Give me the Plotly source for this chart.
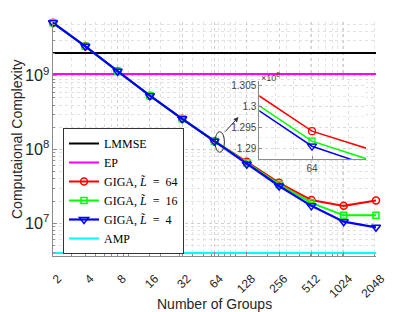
import plotly.graph_objects as go

groups = [2, 4, 8, 16, 32, 64, 128, 256, 512, 1024, 2048]
tick_labels = ["2", "4", "8", "16", "32", "64", "128", "256", "512", "1024", "2048"]

lmmse = [2.03e9] * len(groups)
ep = [1.055e9] * len(groups)
amp = [3.95e6] * len(groups)
giga_64 = [5.2e9, 2.5e9, 1.15e9, 5.35e8, 2.60e8, 1.2941e8, 6.8e7, 3.53e7, 2.06e7, 1.72e7, 2.04e7]
giga_16 = [5.2e9, 2.5e9, 1.15e9, 5.35e8, 2.60e8, 1.2917e8, 6.6e7, 3.36e7, 1.89e7, 1.28e7, 1.28e7]
giga_4 = [5.2e9, 2.5e9, 1.15e9, 5.35e8, 2.60e8, 1.2905e8, 6.3e7, 3.2e7, 1.72e7, 1.05e7, 8.8e6]

inset_tickvals = [1.29e8, 1.295e8, 1.3e8, 1.305e8]
inset_ticktext = ["1.29", "1.295", "1.3", "1.305"]

W, H = 415, 312
L, R, T, B = 53, 39, 22, 56
pw, ph = W - L - R, H - T - B


def px(xp):
    return (xp - L) / pw


def py(yp):
    return (H - B - yp) / ph


fig = go.Figure()

serif = "Liberation Serif"
sans = "Liberation Sans"

fig.add_trace(go.Scatter(x=groups, y=lmmse, mode="lines", name="LMMSE",
                         line=dict(color="black", width=2)))
fig.add_trace(go.Scatter(x=groups, y=ep, mode="lines", name="EP",
                         line=dict(color="#ff00ff", width=2)))
fig.add_trace(go.Scatter(x=groups, y=giga_64, mode="lines+markers",
                         name="GIGA, <i>L̃</i>  =  64",
                         line=dict(color="#ff0000", width=2),
                         marker=dict(symbol="circle-open", size=7, color="#ff0000",
                                     line=dict(width=1.5)), cliponaxis=False))
fig.add_trace(go.Scatter(x=groups, y=giga_16, mode="lines+markers",
                         name="GIGA, <i>L̃</i>  =  16",
                         line=dict(color="#00ff00", width=2),
                         marker=dict(symbol="square-open", size=6, color="#00ff00",
                                     line=dict(width=1.5)), cliponaxis=False))
fig.add_trace(go.Scatter(x=groups, y=giga_4, mode="lines+markers",
                         name="GIGA, <i>L̃</i>  =  4",
                         line=dict(color="#0000ff", width=2.2),
                         marker=dict(symbol="triangle-down-open", size=8, color="#0000ff",
                                     line=dict(width=1.5)), cliponaxis=False))
fig.add_trace(go.Scatter(x=groups, y=amp, mode="lines", name="AMP",
                         line=dict(color="#00ffff", width=2)))

# inset
for ys, col, sym, sz in [(giga_64, "#ff0000", "circle-open", 7),
                         (giga_16, "#00ff00", "square-open", 6),
                         (giga_4, "#0000ff", "triangle-down-open", 8)]:
    fig.add_trace(go.Scatter(x=groups, y=ys, mode="lines+markers", showlegend=False,
                             xaxis="x2", yaxis="y2",
                             line=dict(color=col, width=1.5),
                             marker=dict(symbol=sym, size=sz, color=col, line=dict(width=1.2))))

axis_col = "#8c8c8c"
grid_col = "#d0d0d0"

fig.update_layout(
    width=W, height=H,
    margin=dict(l=L, r=R, t=T, b=B, autoexpand=False),
    paper_bgcolor="white", plot_bgcolor="white",
    font=dict(family=sans, size=12, color="#262626"),
    xaxis=dict(type="log", range=[0.3009, 3.3115], tickvals=groups, ticktext=tick_labels,
               tickangle=-45, ticks="inside", ticklen=4, tickcolor=axis_col,
               ticklabelstandoff=10, ticklabelshift=5,
               showline=True, linecolor=axis_col, linewidth=1, mirror=False,
               showgrid=True, gridcolor=grid_col, griddash="dot", gridwidth=1,
               zeroline=False, automargin=False,
               tickfont=dict(size=12, family=sans, color="#262626"),
               minor=dict(dtick="D1", showgrid=True, gridcolor="#e2e2e2", griddash="dot",
                          ticks="inside", ticklen=2, tickcolor=axis_col)),
    yaxis=dict(type="log", range=[6.556, 9.727], dtick=1, exponentformat="power",
               ticks="inside", ticklen=4, tickcolor=axis_col,
               showline=True, linecolor=axis_col, linewidth=1,
               showgrid=True, gridcolor=grid_col, griddash="dot",
               zeroline=False, automargin=False,
               tickfont=dict(size=13, family=sans, color="#262626"),
               minor=dict(dtick="D1", showgrid=True, gridcolor="#e2e2e2", griddash="dot",
                          ticks="inside", ticklen=2, tickcolor=axis_col)),
    xaxis2=dict(type="log", range=[1.804234, 1.808174], domain=[px(259.3), px(366)],
                anchor="y2", tickvals=[64], ticktext=["64"], ticks="inside", ticklen=3,
                tickcolor=axis_col, showline=True, linecolor=axis_col,
                showgrid=False, zeroline=False, automargin=False,
                tickfont=dict(size=10, family=sans, color="#444444"),
                minor=dict(dtick="L0.1", showgrid=True, gridcolor="#e0e0e0", griddash="dot")),
    yaxis2=dict(type="linear", range=[1.28736e8, 1.30605e8], domain=[py(159.3), py(81.3)],
                anchor="x2", tickvals=inset_tickvals, ticktext=inset_ticktext,
                ticks="inside", ticklen=3, tickcolor=axis_col,
                showline=True, linecolor=axis_col, showgrid=True, gridcolor="#dcdcdc",
                griddash="dot", zeroline=False, automargin=False,
                tickfont=dict(size=10, family=sans, color="#444444"),
                minor=dict(dtick=0.0025e8, showgrid=True, gridcolor="#ececec", griddash="dot")),
    legend=dict(x=px(63), y=py(128), xanchor="left", yanchor="top",
                bgcolor="white", bordercolor="#333333", borderwidth=1,
                font=dict(family=serif, size=12, color="black"),
                tracegroupgap=0, itemwidth=30),
    showlegend=True,
)

# inset exponent label
fig.add_annotation(x=px(259), y=py(77), xref="paper", yref="paper", text="×10<sup>8</sup>",
                   showarrow=False, xanchor="left", yanchor="middle",
                   font=dict(size=9, family=sans, color="#444444"))

# ellipse and arrow
fig.add_shape(type="circle", xref="paper", yref="paper",
              x0=px(215), x1=px(224.4), y0=py(152.3), y1=py(131.7),
              line=dict(color="#333333", width=1))
fig.add_annotation(x=px(238.5), y=py(117), xref="paper", yref="paper",
                   ax=-14.5, ay=16, axref="pixel", ayref="pixel",
                   showarrow=True, arrowhead=2, arrowsize=1, arrowwidth=1,
                   arrowcolor="#333333", text="")

# axis titles
fig.add_annotation(x=px(214), y=py(304), xref="paper", yref="paper",
                   text="Number of Groups", showarrow=False,
                   xanchor="center", yanchor="middle",
                   font=dict(size=14, family=sans, color="#262626"))
fig.add_annotation(x=px(17), y=0.5, xref="paper", yref="paper",
                   text="Computaional Complexity", showarrow=False, textangle=-90,
                   xanchor="center", yanchor="middle",
                   font=dict(size=14, family=sans, color="#262626"))

fig.write_html("out.html", config={"displayModeBar": False},
               post_script="document.body.style.margin='0';document.body.style.padding='0';")
